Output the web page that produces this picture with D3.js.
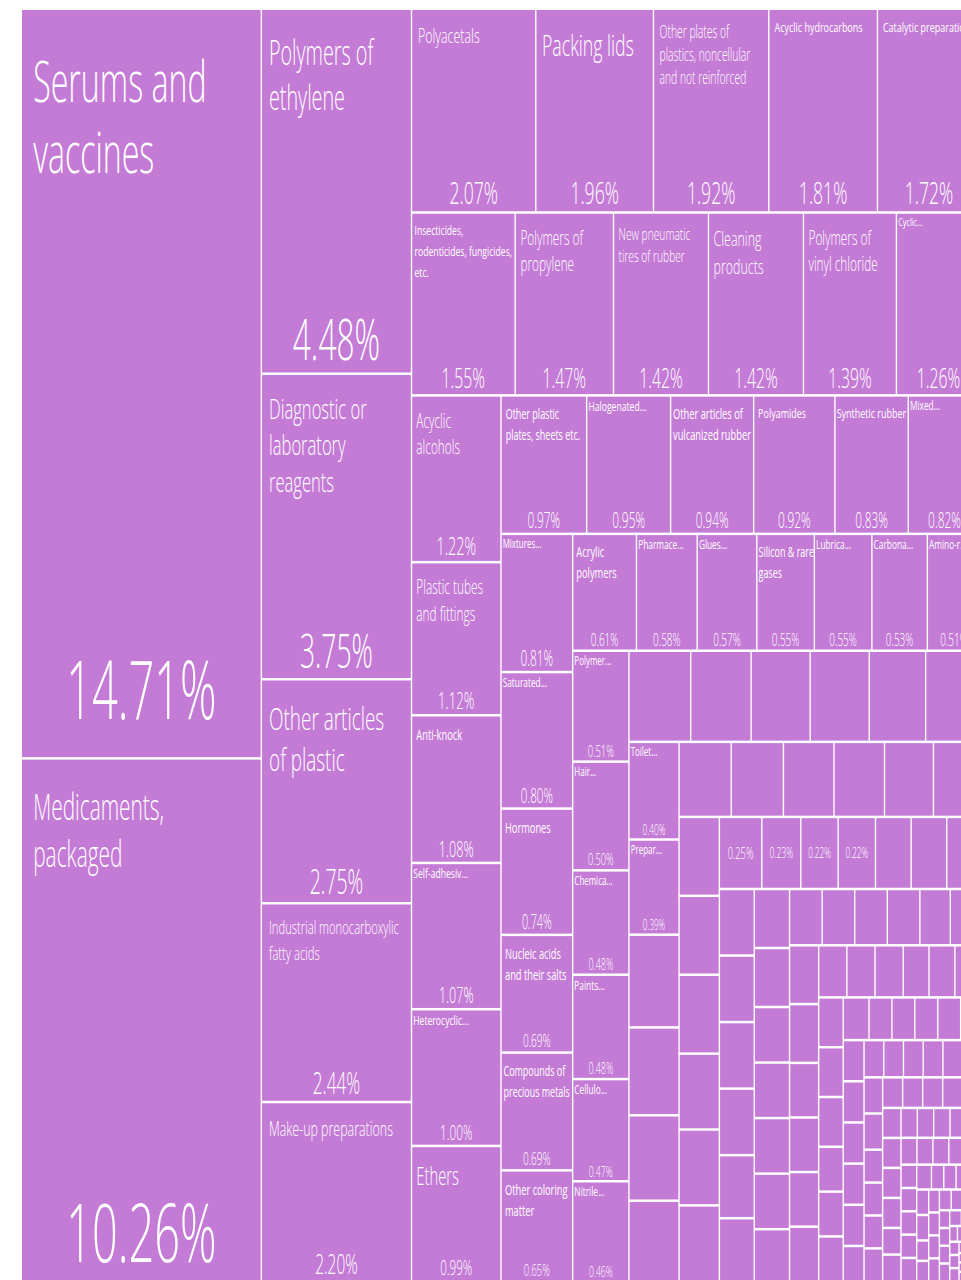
<!DOCTYPE html>
<html>
<head>
<meta charset="utf-8">
<script src="https://cdn.jsdelivr.net/npm/d3@7"></script>
<style>
    body { margin: 0; background: #fff; }
    svg { display: block; }
    text { font-family: "Open Sans", sans-serif; font-weight: 300; fill: #fff; }
</style>
</head>
<body>
<svg id="chart" width="961" height="1280"></svg>
<script>
/** Product names as shown on the chart (null = no label, "" = share only) **/
var names = [
    "Serums and\nvaccines", "Medicaments,\npackaged",
    "Polymers of\nethylene", "Diagnostic or\nlaboratory\nreagents", "Other articles\nof plastic",
    "Industrial monocarboxylic\nfatty acids", "Make-up preparations",
    "Polyacetals", "Packing lids", "Other plates of\nplastics, noncellular\nand not reinforced",
    "Acyclic hydrocarbons", "Catalytic preparations",
    "Insecticides,\nrodenticides, fungicides,\netc.", "Polymers of\npropylene", "New pneumatic\ntires of rubber",
    "Cleaning\nproducts", "Polymers of\nvinyl chloride", "Cyclic...",
    "Acyclic\nalcohols", "Plastic tubes\nand fittings", "Anti-knock", "Self-adhesiv...", "Heterocyclic...", "Ethers",
    "Other plastic\nplates, sheets etc.", "Halogenated...", "Other articles of\nvulcanized rubber",
    "Polyamides", "Synthetic rubber", "Mixed...",
    "Mixtures...", "Saturated...", "Hormones", "Nucleic acids\nand their salts",
    "Compounds of\nprecious metals", "Other coloring\nmatter",
    "Acrylic\npolymers", "Pharmace...", "Glues...", "Silicon & rare\ngases", "Lubrica...", "Carbona...", "Amino-r...",
    "Polymer...", "Hair...", "Chemica...", "Paints...", "Cellulo...", "Nitrile...",
    null, null, null, null, null, null,
    "Toilet...", "Prepar...", null, null, null, null,
    null, null, null, null, null, null,
    null, null, null, null, null, null,
    "", "", "", "", null, null, null
];

/** Share of total exports, % **/
var shares = [
    14.71, 10.26,
    4.48, 3.75, 2.75, 2.44, 2.20,
    2.07, 1.96, 1.92, 1.81, 1.72,
    1.55, 1.47, 1.42, 1.42, 1.39, 1.26,
    1.22, 1.12, 1.08, 1.07, 1.00, 0.99,
    0.97, 0.95, 0.94, 0.92, 0.83, 0.82,
    0.81, 0.80, 0.74, 0.69, 0.69, 0.65,
    0.61, 0.58, 0.57, 0.55, 0.55, 0.53, 0.51,
    0.51, 0.50, 0.48, 0.48, 0.47, 0.46,
    0.46, 0.45, 0.44, 0.44, 0.42, 0.41,
    0.40, 0.39, 0.38, 0.36, 0.35, 0.33,
    0.32, 0.32, 0.31, 0.31, 0.30, 0.29,
    0.26, 0.26, 0.26, 0.25, 0.25, 0.25,
    0.25, 0.23, 0.22, 0.22, 0.21, 0.21, 0.20
];

/** Small products without labels (read off the lower right corner) **/
var smallShares = [
    0.19, 0.19, 0.19, 0.19, 0.18, 0.18,
    0.17, 0.17, 0.16, 0.16, 0.16, 0.16, 0.15,
    0.15, 0.15, 0.15, 0.15, 0.14, 0.14,
    0.14, 0.14, 0.13, 0.13, 0.13, 0.13,
    0.12, 0.12, 0.12, 0.11, 0.11, 0.11,
    0.10, 0.10, 0.10, 0.09, 0.09, 0.09,
    0.09, 0.08, 0.08, 0.08, 0.08, 0.07, 0.07,
    0.07, 0.07, 0.07, 0.07, 0.06,
    0.06, 0.06, 0.06, 0.06, 0.06,
    0.055, 0.055, 0.055, 0.05, 0.05, 0.05,
    0.05, 0.05, 0.05, 0.05, 0.05,
    0.045, 0.045, 0.045, 0.045, 0.045,
    0.04, 0.04, 0.04, 0.04, 0.04, 0.04,
    0.035, 0.035, 0.035, 0.035, 0.035, 0.035,
    0.03, 0.03, 0.03, 0.03, 0.03, 0.03,
    0.025, 0.025, 0.025, 0.025, 0.025, 0.025,
    0.02, 0.02, 0.02, 0.02, 0.02, 0.02, 0.02, 0.02,
    0.015, 0.015, 0.015, 0.015, 0.015, 0.015, 0.015, 0.015,
    0.01, 0.01, 0.01, 0.01, 0.01, 0.01, 0.01, 0.01, 0.01, 0.01,
    0.005, 0.005, 0.005, 0.005, 0.005, 0.005, 0.005, 0.005, 0.005, 0.005
];

/** name font size (px) **/
var nameFont = {
    "Serums and\nvaccines": 57, "Medicaments,\npackaged": 37,
    "Polymers of\nethylene": 35, "Diagnostic or\nlaboratory\nreagents": 28, "Other articles\nof plastic": 32,
    "Industrial monocarboxylic\nfatty acids": 19, "Make-up preparations": 21,
    "Polyacetals": 21, "Packing lids": 30, "Other plates of\nplastics, noncellular\nand not reinforced": 17.5,
    "Acyclic hydrocarbons": 13.5, "Catalytic preparations": 13.5,
    "Insecticides,\nrodenticides, fungicides,\netc.": 13, "Polymers of\npropylene": 20,
    "New pneumatic\ntires of rubber": 16.5, "Cleaning\nproducts": 21, "Polymers of\nvinyl chloride": 20,
    "Cyclic...": 11,
    "Acyclic\nalcohols": 20, "Plastic tubes\nand fittings": 20, "Anti-knock": 15, "Self-adhesiv...": 13,
    "Heterocyclic...": 13, "Ethers": 25,
    "Other plastic\nplates, sheets etc.": 14.5, "Halogenated...": 13, "Other articles of\nvulcanized rubber": 14,
    "Polyamides": 13.5, "Synthetic rubber": 13.5, "Mixed...": 12.5,
    "Mixtures...": 12, "Saturated...": 12.5, "Hormones": 15, "Nucleic acids\nand their salts": 15,
    "Compounds of\nprecious metals": 14.5, "Other coloring\nmatter": 15,
    "Acrylic\npolymers": 14, "Pharmace...": 12.5, "Glues...": 12.5, "Silicon & rare\ngases": 14.5,
    "Lubrica...": 12.5, "Carbona...": 12.5, "Amino-r...": 12.5,
    "Polymer...": 12, "Hair...": 12, "Chemica...": 12, "Paints...": 12.5, "Cellulo...": 12.5, "Nitrile...": 12.5,
    "Toilet...": 12, "Prepar...": 12
};

var margin = {left: 22, top: 10};
var width = 958, height = 1270;
/** the layout is computed wide and then squeezed horizontally **/
var stretch = 1.775;
var vw = width * stretch;

var items = shares.concat(smallShares).map(function (s, i) {
    return {name: i < names.length ? names[i] : null, share: s};
});

var root = d3.hierarchy({children: items})
    .sum(function (d) { return d.share || 0; });

d3.treemap()
    .size([vw, height])
    .tile(d3.treemapSquarify.ratio(1))
    .paddingInner(2.5)(root);

var svg = d3.select("#chart");
var g = svg.append("g")
    .attr("transform", "translate(" + margin.left + "," + margin.top + ") scale(" + (1 / stretch) + ",1)");

var cell = g.selectAll(".cell")
    .data(root.leaves())
    .enter()
    .append("g")
    .attr("class", "cell");

cell.append("rect")
    .attr("x", function (d) { return d.x0; })
    .attr("y", function (d) { return d.y0; })
    .attr("width", function (d) { return d.x1 - d.x0; })
    .attr("height", function (d) { return d.y1 - d.y0; })
    .attr("fill", "#c47bd6");

/** product names, top left **/
cell.filter(function (d) { return d.data.name; })
    .each(function (d) {
        var name = d.data.name;
        var fs = nameFont[name] || 12;
        var cut = name.slice(-3) === "...";
        var h = d.y1 - d.y0;
        var wScreen = (d.x1 - d.x0) / stretch;
        // small text reads wider and heavier on the original
        var wx = fs < 14.5 ? 1.18 : fs < 17 ? 1.1 : fs < 33 ? 1.05 : 1;
        var y = cut ? d.y0 + 1.1 * fs : d.y0 + 1.45 * fs + 0.012 * h;
        var lh = Math.max(21, 1.22 * fs + 2);

        var t = d3.select(this).append("text")
            .attr("font-size", fs)
            .style("font-weight", fs < 16 ? 400 : 300);
        name.split("\n").forEach(function (line, i) {
            t.append("tspan").attr("x", 0).attr("y", y + i * lh).text(line);
        });
        var textW = t.node().getBBox().width * wx / stretch;
        var pad = cut ? 1 : Math.min(0.047 * wScreen, Math.max(1, (wScreen - textW) / 2));
        var x = d.x0 + pad * stretch;
        t.attr("transform", "translate(" + x + ",0) scale(" + wx + ",1)");
    });

/** share labels, bottom centre **/
var fmt = d3.format(".2f");
cell.filter(function (d) { return d.data.name !== null; })
    .each(function (d) {
        var w = d.x1 - d.x0, h = d.y1 - d.y0;
        var t = d3.select(this).append("text")
            .attr("text-anchor", "middle")
            .attr("font-size", 100)
            .text(fmt(d.data.share) + "%");
        var len = t.node().getComputedTextLength();
        var fs, y;
        if (d.data.name) {
            fs = Math.min(0.155 * h, 0.63 * w / len * 100);
            y = d.y0 + 0.91 * h + 0.36 * fs;
        } else {
            fs = Math.min(0.3 * h, 0.63 * w / len * 100);
            y = (d.y0 + d.y1) / 2 + 0.36 * fs;
        }
        t.attr("font-size", fs)
            .attr("x", (d.x0 + d.x1) / 2)
            .attr("y", y);
    });
</script>
</body>
</html>
